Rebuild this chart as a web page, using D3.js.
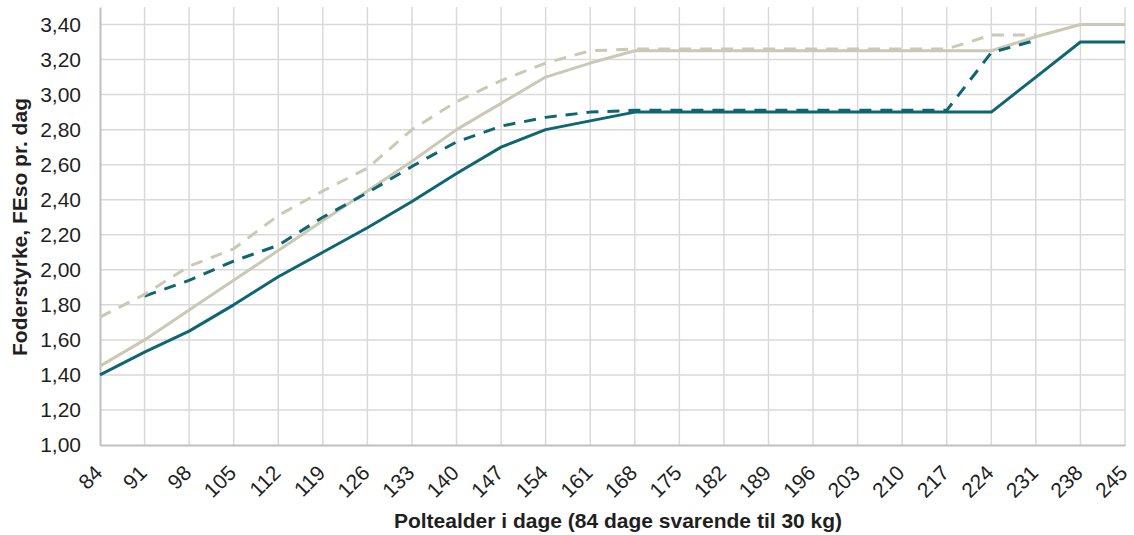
<!DOCTYPE html>
<html>
<head>
<meta charset="utf-8">
<script src="https://cdn.jsdelivr.net/npm/d3@7"></script>
<style>
  html, body { margin: 0; padding: 0; background: #ffffff; }
  svg { display: block; }
</style>
</head>
<body>
<svg id="chart" width="1134" height="535"></svg>
<script>
// ---- data ----
const categories = [84, 91, 98, 105, 112, 119, 126, 133, 140, 147, 154, 161, 168, 175, 182, 189, 196, 203, 210, 217, 224, 231, 238, 245];
const tealSolid  = [1.40, 1.53, 1.65, 1.80, 1.96, 2.10, 2.24, 2.39, 2.55, 2.70, 2.80, 2.85, 2.90, 2.90, 2.90, 2.90, 2.90, 2.90, 2.90, 2.90, 2.90, 3.10, 3.30, 3.30];
const beigeSolid = [1.45, 1.60, 1.77, 1.94, 2.11, 2.28, 2.45, 2.62, 2.80, 2.95, 3.10, 3.18, 3.25, 3.25, 3.25, 3.25, 3.25, 3.25, 3.25, 3.25, 3.25, 3.33, 3.40, 3.40];
const tealDashed = [null, 1.85, 1.94, 2.05, 2.14, 2.30, 2.44, 2.59, 2.73, 2.82, 2.87, 2.90, 2.91, 2.91, 2.91, 2.91, 2.91, 2.91, 2.91, 2.91, 3.24, 3.31, null, null];
const beigeDashed = [1.73, 1.86, 2.02, 2.12, 2.31, 2.45, 2.58, 2.80, 2.96, 3.08, 3.18, 3.25, 3.26, 3.26, 3.26, 3.26, 3.26, 3.26, 3.26, 3.26, 3.34, 3.34, null, null];
const yTicks = [1.0, 1.2, 1.4, 1.6, 1.8, 2.0, 2.2, 2.4, 2.6, 2.8, 3.0, 3.2, 3.4];
const xTitle = "Poltealder i dage (84 dage svarende til 30 kg)";
const yTitle = "Foderstyrke, FEso pr. dag";

(function () {
// ---- layout ----
const svg = d3.select("#chart");
const pLeft = 100, pRight = 1125, pTop = 7, pBottom = 445;
const teal = "#0f6670", beige = "#c9c9b5";
const font = "Liberation Sans, Arial, sans-serif";
const fs = 21;

const x = d3.scalePoint().domain(categories).range([pLeft, pRight]);
const y = d3.scaleLinear().domain([1.0, 3.5]).range([pBottom, pTop]);

// gridlines
const grid = svg.append("g");
grid.selectAll("line.h").data(yTicks.filter(v => v > 1.0)).enter().append("line")
  .attr("x1", pLeft).attr("x2", pRight)
  .attr("y1", d => y(d)).attr("y2", d => y(d))
  .attr("stroke", "#d9d9d9").attr("stroke-width", 1.5);
grid.selectAll("line.v").data(categories.slice(1)).enter().append("line")
  .attr("x1", d => x(d)).attr("x2", d => x(d))
  .attr("y1", pTop).attr("y2", pBottom)
  .attr("stroke", "#d9d9d9").attr("stroke-width", 1.5);

// y axis
const yAxis = svg.append("g").attr("transform", `translate(${pLeft},0)`)
  .call(d3.axisLeft(y).tickValues(yTicks).tickSize(0).tickPadding(19)
    .tickFormat(d => d3.format(".2f")(d).replace(".", ",")));
yAxis.select(".domain").attr("stroke", "#bfbfbf").attr("stroke-width", 2);
yAxis.selectAll("text").attr("font-family", font).attr("font-size", fs).attr("fill", "#1f1f1f");

// x axis
const xAxis = svg.append("g").attr("transform", `translate(0,${pBottom})`)
  .call(d3.axisBottom(x).tickSize(0).tickPadding(0));
xAxis.select(".domain").attr("stroke", "#bfbfbf").attr("stroke-width", 2);
xAxis.selectAll("text")
  .attr("font-family", font).attr("font-size", fs).attr("fill", "#1f1f1f")
  .attr("text-anchor", "end")
  .attr("y", 0)
  .attr("dy", "0.35em")
  .attr("transform", "translate(-2,24) rotate(-45)");

// series
const series = [
  { values: tealSolid,   color: teal,  dash: null },
  { values: beigeSolid,  color: beige, dash: null },
  { values: tealDashed,  color: teal,  dash: "12,9" },
  { values: beigeDashed, color: beige, dash: "12,9" }
];
const line = d3.line()
  .defined(d => d.v !== null)
  .x(d => x(d.c)).y(d => y(d.v));
series.forEach(s => {
  svg.append("path")
    .datum(categories.map((c, i) => ({ c: c, v: s.values[i] })))
    .attr("d", line)
    .attr("fill", "none")
    .attr("stroke", s.color)
    .attr("stroke-width", 3)
    .attr("stroke-linejoin", "round")
    .attr("stroke-linecap", "butt")
    .attr("stroke-dasharray", s.dash);
});

// titles
svg.append("text")
  .attr("x", 618).attr("y", 528)
  .attr("text-anchor", "middle")
  .attr("font-family", font).attr("font-size", fs).attr("font-weight", "bold")
  .attr("fill", "#1f1f1f")
  .text(xTitle);
svg.append("text")
  .attr("transform", `translate(27,227) rotate(-90)`)
  .attr("text-anchor", "middle")
  .attr("font-family", font).attr("font-size", fs).attr("font-weight", "bold")
  .attr("fill", "#1f1f1f")
  .text(yTitle);
})();
</script>
</body>
</html>
